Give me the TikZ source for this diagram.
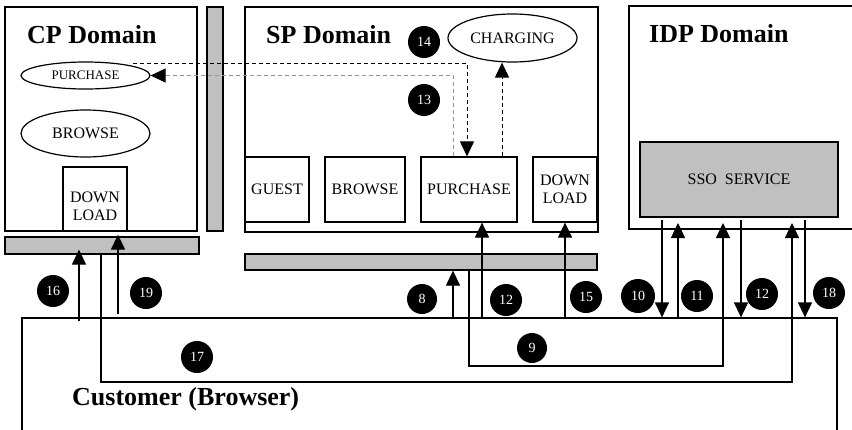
\documentclass[tikz,border=0pt]{standalone}
\usepackage{fontspec}
\setmainfont{Liberation Serif}
\usetikzlibrary{arrows.meta,shapes.geometric}
\definecolor{bargray}{RGB}{192,192,192}
\definecolor{dashgray}{RGB}{150,150,150}
\begin{document}
\begin{tikzpicture}[x=1pt,y=-1pt,
  box/.style={draw,line width=1.2pt,rectangle,inner sep=0pt,align=center,font=\fontsize{16}{18}\selectfont},
  bar/.style={draw,line width=1.2pt,rectangle,fill=bargray,inner sep=0pt},
  oval/.style={draw,line width=1.2pt,ellipse,inner sep=0pt,font=\fontsize{16}{18}\selectfont},
  lbl/.style={inner sep=0pt,align=center,font=\fontsize{16}{18}\selectfont},
  title/.style={anchor=base west,inner sep=0pt,font=\fontsize{26}{28}\selectfont\bfseries},
  num/.style={circle,fill=black,text=white,minimum size=32pt,inner sep=0pt,font=\fontsize{14}{14}\selectfont},
  arr/.style={line width=1.2pt,-{Triangle[width=14pt,length=15pt]}},
  darr/.style={line width=1pt,dash pattern=on 4pt off 3pt,-{Triangle[width=14pt,length=15pt,color=black]}}]
\useasboundingbox (0,0) rectangle (852,429);
% domains
\node[box,minimum width=192pt,minimum height=224pt] (cp) at (101,119) {};
\node[bar,minimum width=16pt,minimum height=224pt] (cpvbar) at (215,119) {};
\node[bar,minimum width=194pt,minimum height=17pt] (cpbar) at (102,245.5) {};
\node[box,minimum width=353pt,minimum height=225pt] (sp) at (421.5,119.5) {};
\node[bar,minimum width=352pt,minimum height=16pt] (spbar) at (421,262) {};
\node[box,minimum width=241pt,minimum height=223pt] (idp) at (749.5,117.5) {};
\node[bar,minimum width=198pt,minimum height=75pt,font=\fontsize{16}{18}\selectfont] (sso) at (739,179.5) {SSO\hspace{0.5em}SERVICE};
\node[box,minimum width=815pt,minimum height=132pt] (cust) at (429.5,384) {};
% titles
\node[title] (cpt) at (27,43) {CP Domain};
\node[title] (spt) at (266,43) {SP Domain};
\node[title] (idpt) at (649,42) {IDP Domain};
\node[title] (custt) at (72,405) {Customer (Browser)};
% CP contents
\node[oval,minimum width=129pt,minimum height=27pt,font=\fontsize{13}{15}\selectfont] (cppur) at (85.5,75.5) {PURCHASE};
\node[oval,minimum width=129pt,minimum height=47pt] (cpbro) at (85.5,133.5) {\raisebox{-5pt}{BROWSE}};
\node[box,minimum width=64pt,minimum height=64pt] (cpdown) at (95,199) {};
\node[lbl] (cpdownt) at (95,206) {DOWN\\LOAD};
% SP contents
\node[oval,minimum width=129pt,minimum height=48pt] (charg) at (512.5,38) {CHARGING};
\node[box,minimum width=64pt,minimum height=65pt] (guest) at (277,189.5) {GUEST};
\node[box,minimum width=80pt,minimum height=65pt] (spbro) at (365,189.5) {BROWSE};
\node[box,minimum width=96pt,minimum height=65pt] (sppur) at (469,189.5) {PURCHASE};
\node[box,minimum width=64pt,minimum height=65pt] (spdown) at (565,189.5) {DOWN\\LOAD};
% numbers
\node[num] (n14) at (424,42) {14};
\node[num] (n13) at (424,100) {13};
\node[num] (n16) at (53,291) {16};
\node[num] (n19) at (146,293) {19};
\node[num] (n17) at (197,357) {17};
\node[num,minimum size=30pt] (n8) at (422,299) {8};
\node[num] (n12) at (506,300) {12};
\node[num] (n15) at (586,297) {15};
\node[num,minimum size=34pt] (n10) at (638,296) {10};
\node[num] (n11) at (697,296) {11};
\node[num] (n12b) at (762,294) {12};
\node[num] (n18) at (829,293) {18};
\node[num,minimum size=30pt] (n9) at (532,348) {9};
% coordinates
\coordinate (dstart) at (133,63);
\coordinate (ssoin) at (0,223);
\coordinate (ssoout) at (0,220);
% dashed connectors
\draw[darr] (dstart) -| (sppur.north -| 467,0);
\draw[darr,dashgray] (sppur.north -| 453,0) |- (cppur.east);
\draw[darr] (sppur.north -| 502,0) -- (charg.south -| 502,0);
% CP arrows
\draw[arr,shorten >=-5pt] ([yshift=-4pt]cust.north -| 79,0) -- (cpbar.south -| 79,0);
\draw[arr] ([yshift=3pt]cust.north -| 118,0) -- ([yshift=-3pt]cpdown.south -| 118,0);
\draw[arr] (cpbar.south -| 101,0) |- (0,382 -| 792,0) -- (ssoin -| 792,0);
% SP arrows
\draw[arr] (cust.north -| 453,0) -- (spbar.south -| 453,0);
\draw[arr] (spbar.south -| 469,0) |- (0,366 -| 723,0) -- (ssoin -| 723,0);
\draw[arr] (cust.north -| 482,0) -- (sppur.south -| 482,0);
\draw[arr] (cust.north -| 565,0) -- (spdown.south);
% IDP arrows
\draw[arr] (ssoout -| 662,0) -- (cust.north -| 662,0);
\draw[arr] (cust.north -| 678,0) -- (ssoin -| 678,0);
\draw[arr] (ssoout -| 741,0) -- (cust.north -| 741,0);
\draw[arr] (ssoout -| 805,0) -- (cust.north -| 805,0);
\end{tikzpicture}
\end{document}
